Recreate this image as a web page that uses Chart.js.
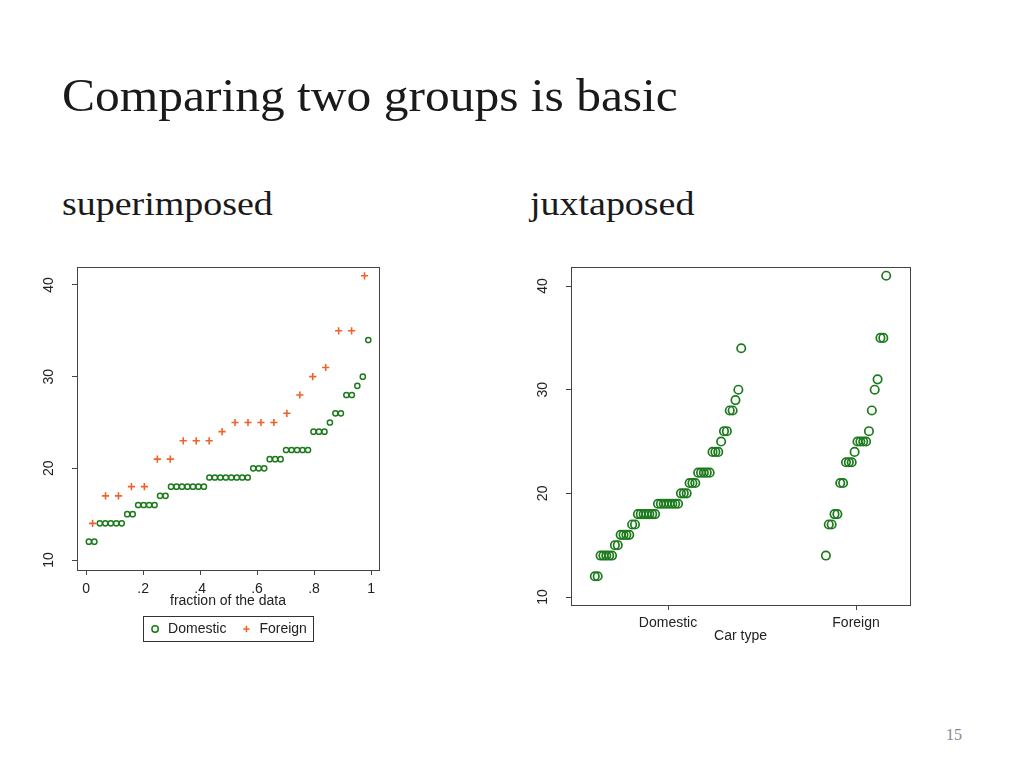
<!DOCTYPE html>
<html><head><meta charset="utf-8">
<script src="https://cdn.jsdelivr.net/npm/chart.js@4/dist/chart.umd.min.js"></script>
<style>
html,body{margin:0;padding:0;background:#fff;width:1024px;height:768px;overflow:hidden;position:relative;}
.t{position:absolute;font-family:"Liberation Serif",serif;color:#1a1a1a;line-height:1;white-space:nowrap;transform-origin:0 0;}
#title{left:62px;top:72px;font-size:47px;transform:scaleX(1.053);}
#s1{left:62px;top:188px;font-size:33px;transform:scaleX(1.15);}
#s2{left:530px;top:188px;font-size:33px;transform:scaleX(1.15);}
#pg{left:946px;top:727px;font-size:16px;color:#888;}
.cw{position:absolute;}
#c1w{left:0px;top:250px;width:400px;height:410px;}
#c2w{left:500px;top:250px;width:430px;height:410px;}
</style></head><body>
<div class="t" id="title">Comparing two groups is basic</div>
<div class="t" id="s1">superimposed</div>
<div class="t" id="s2">juxtaposed</div>
<div class="t" id="pg">15</div>
<div class="cw" id="c1w"><canvas id="c1" width="400" height="410"></canvas></div>
<div class="cw" id="c2w"><canvas id="c2" width="430" height="410"></canvas></div>
<script>
// ---- data (mpg, sorted) ----
const groups = ['Domestic', 'Foreign'];
const domesticMpg = [12,12,14,14,14,14,14,15,15,16,16,16,16,17,17,18,18,18,18,18,18,18,
  19,19,19,19,19,19,19,19,20,20,20,21,21,21,22,22,22,22,22,24,24,24,25,26,26,28,28,29,30,34];
const foreignMpg = [14,17,17,18,18,21,21,23,23,23,24,25,25,25,25,26,28,30,31,35,35,41];
const fracTicks = [0, 0.2, 0.4, 0.6, 0.8, 1];
const fracTickLabels = ['0', '.2', '.4', '.6', '.8', '1'];
const yTicks = [10, 20, 30, 40];
const xTitleLeft = 'fraction of the data';
const xTitleRight = 'Car type';

const GREEN = '#1c7a1c';
const ORANGE = '#f0622a';
const AXIS = '#444';
const FONT = {family: '"Liberation Sans", Arial, sans-serif', size: 14};

Chart.defaults.font = FONT;
Chart.defaults.color = '#222';

const quantilePts = arr => arr.map((v, i) => ({x: (i + 0.5) / arr.length, y: v}));
const jitterPts = (arr, c) => arr.map((v, i) => ({x: c + (i - (arr.length - 1) / 2) * 0.01527, y: v}));

const boxPlugin = {
  id: 'box',
  afterDraw(chart) {
    const a = chart.chartArea, ctx = chart.ctx;
    ctx.save();
    ctx.strokeStyle = AXIS; ctx.lineWidth = 1;
    ctx.strokeRect(Math.round(a.left) + 0.5, Math.round(a.top) + 0.5, Math.round(a.right - a.left), Math.round(a.bottom - a.top));
    const lg = chart.legend;
    if (lg && lg.options.display && lg.legendHitBoxes && lg.legendHitBoxes.length) {
      const hb = lg.legendHitBoxes;
      const l = Math.min(...hb.map(h => h.left)), r = Math.max(...hb.map(h => h.left + h.width));
      const t = Math.min(...hb.map(h => h.top)), b = Math.max(...hb.map(h => h.top + h.height));
      ctx.strokeStyle = '#333';
      ctx.strokeRect(Math.round(l - 6) + 0.5, Math.round(t - 6) + 0.5, Math.round(r - l + 12), Math.round(b - t + 11));
    }
    ctx.restore();
  }
};

const yAxis = (min, max, w) => ({
  type: 'linear', min, max,
  afterBuildTicks: s => { s.ticks = yTicks.map(v => ({value: v})); },
  afterFit: s => { s.width = w; s.paddingTop = 0; s.paddingBottom = 0; },
  border: {display: false},
  grid: {drawOnChartArea: false, drawTicks: true, tickLength: 5, color: AXIS},
  ticks: {minRotation: 90, maxRotation: 90, crossAlign: 'center', padding: 15, color: '#222', font: FONT}
});

new Chart(document.getElementById('c1'), {
  type: 'scatter',
  data: {datasets: [
    {label: groups[0], data: quantilePts(domesticMpg), pointStyle: 'circle', pointRadius: 2.6,
     borderColor: GREEN, backgroundColor: 'rgba(0,0,0,0)', pointBorderWidth: 1.5},
    {label: groups[1], data: quantilePts(foreignMpg), pointStyle: 'cross', pointRadius: 3.6,
     borderColor: ORANGE, backgroundColor: ORANGE, pointBorderWidth: 1.6}
  ]},
  options: {
    responsive: false, animation: false,
    layout: {padding: {top: 17, right: 21, left: 0, bottom: 14}},
    plugins: {
      tooltip: {enabled: false},
      legend: {position: 'bottom', fullSize: false,
        labels: {usePointStyle: true, boxWidth: 12, boxHeight: 4.5, padding: 14, color: '#222', font: FONT}}
    },
    scales: {
      x: {type: 'linear', min: -0.032, max: 1.028,
        afterBuildTicks: s => { s.ticks = fracTicks.map(v => ({value: v})); },
        afterFit: s => { s.height = 38; s.paddingLeft = 0; s.paddingRight = 0; },
        border: {display: false},
        grid: {drawOnChartArea: false, drawTicks: true, tickLength: 5, color: AXIS},
        ticks: {maxRotation: 0, padding: 6, color: '#222', font: FONT,
          callback: v => fracTickLabels[fracTicks.indexOf(v)] ?? ''},
        title: {display: true, text: xTitleLeft, padding: {top: 0, bottom: -2}, color: '#222', font: FONT}
      },
      y: yAxis(8.91, 41.96, 77)
    }
  },
  plugins: [boxPlugin]
});

new Chart(document.getElementById('c2'), {
  type: 'scatter',
  data: {datasets: [
    {label: groups[0], data: jitterPts(domesticMpg, 1), pointStyle: 'circle', pointRadius: 4.2,
     borderColor: GREEN, backgroundColor: 'rgba(0,0,0,0)', pointBorderWidth: 1.7},
    {label: groups[1], data: jitterPts(foreignMpg, 2), pointStyle: 'circle', pointRadius: 4.2,
     borderColor: GREEN, backgroundColor: 'rgba(0,0,0,0)', pointBorderWidth: 1.7}
  ]},
  options: {
    responsive: false, animation: false,
    layout: {padding: {top: 17, right: 20, left: 0, bottom: 15}},
    plugins: {tooltip: {enabled: false}, legend: {display: false}},
    scales: {
      x: {type: 'linear', min: 0.484, max: 2.287,
        afterBuildTicks: s => { s.ticks = groups.map((g, i) => ({value: i + 1})); },
        afterFit: s => { s.height = 40; s.paddingLeft = 0; s.paddingRight = 0; },
        border: {display: false},
        grid: {drawOnChartArea: false, drawTicks: true, tickLength: 5, color: AXIS},
        ticks: {maxRotation: 0, padding: 5, color: '#222', font: FONT,
          callback: v => groups[v - 1] ?? ''},
        title: {display: true, text: xTitleRight, padding: {top: 0, bottom: 0}, color: '#222', font: FONT}
      },
      y: yAxis(9.23, 41.84, 71)
    }
  },
  plugins: [boxPlugin]
});
</script>
</body></html>
